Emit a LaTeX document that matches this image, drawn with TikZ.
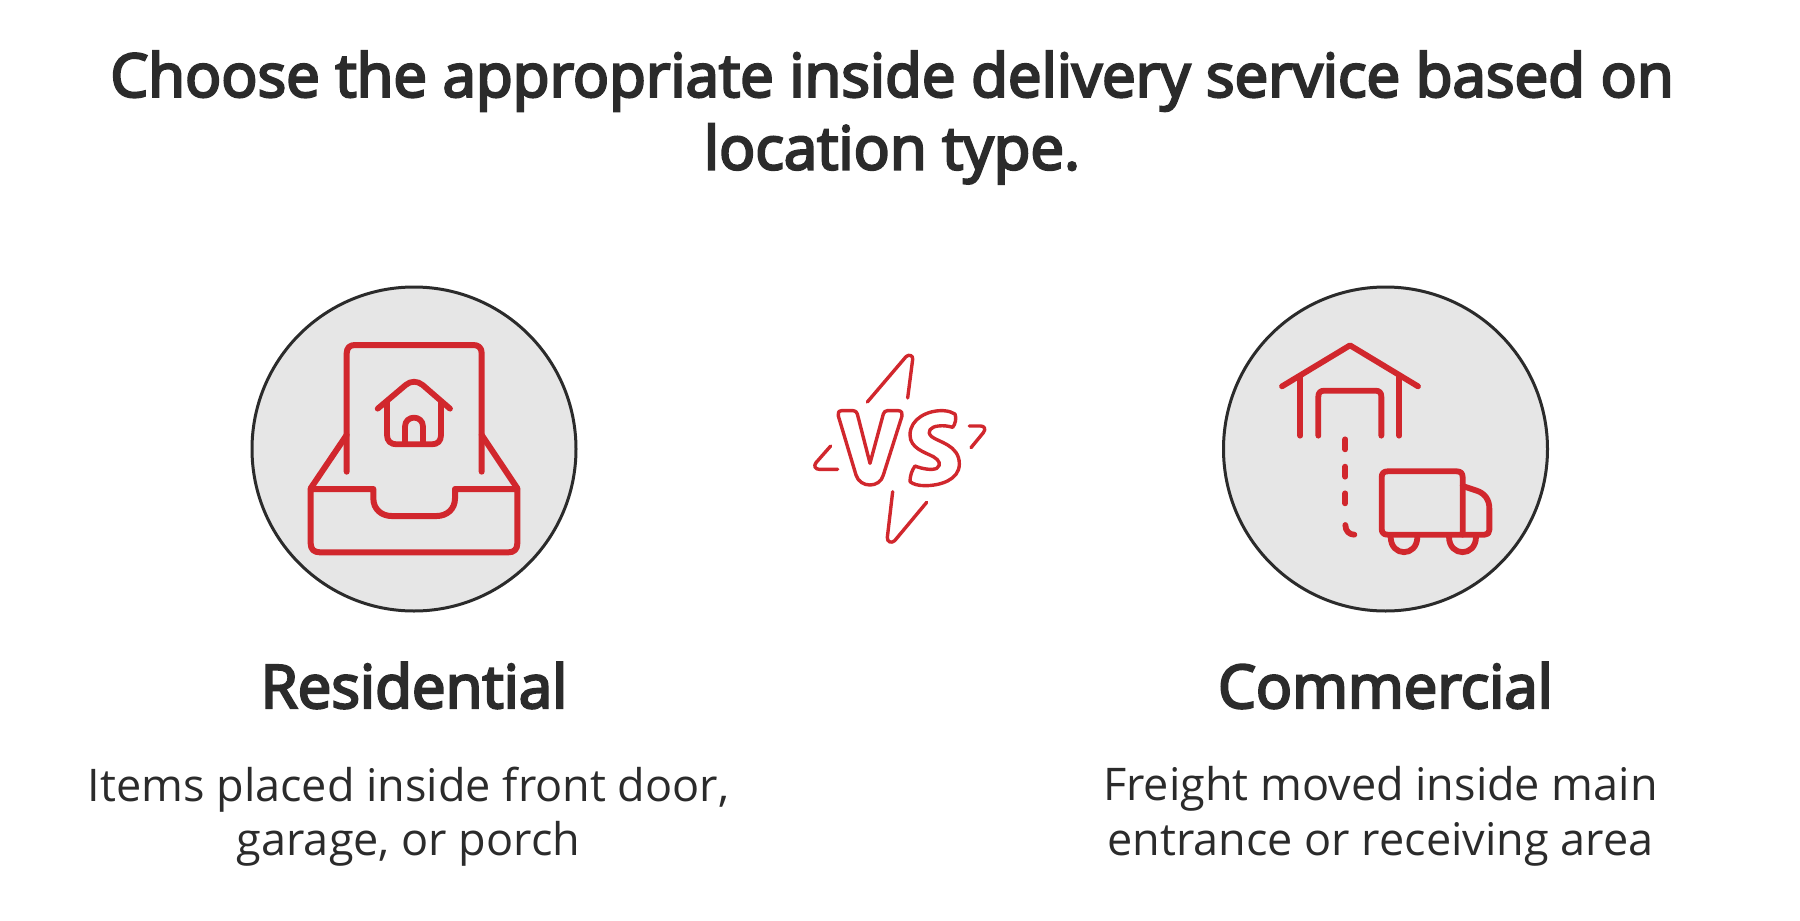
\documentclass[tikz,border=0pt]{standalone}
\usepackage{fontspec}
\setmainfont{Open Sans}
\newfontfamily\semi[FakeBold=4]{Open Sans}
\definecolor{ink}{HTML}{2B2B2B}
\definecolor{redline}{HTML}{D1272D}
\definecolor{discgray}{HTML}{E6E6E6}
\tikzset{
  disc/.style={circle,draw=ink,fill=discgray,line width=1.5pt,minimum size=162pt,inner sep=0pt},
  icon/.style={draw=redline,line width=3pt,line cap=round,line join=round},
  iconthin/.style={draw=redline,line width=2.9pt,line cap=round,line join=round},
  spark/.style={draw=redline,line width=1.7pt,line cap=round,line join=round},
  titletxt/.style={text=ink,font=\semi\fontsize{30}{36.3}\selectfont,align=center,anchor=center,inner sep=0pt},
  headtxt/.style={text=ink,font=\semi\fontsize{30}{36}\selectfont,anchor=base,inner sep=0pt},
  bodytxt/.style={text=ink,font=\fontsize{22.5}{27.3}\selectfont,align=center,anchor=center,inner sep=0pt},
}
\begin{document}
\begin{tikzpicture}[x=0.5pt,y=-0.5pt]
\useasboundingbox (0,0) rectangle (1800,921);
\node[titletxt] (title) at (892,117.5) {Choose the appropriate inside delivery service based on\\location type.};
\node[disc] (left) at (414,449) {};
\node[disc] (right) at (1385.5,449) {};
\node[headtxt] (reshead) at (414,708) {Residential};
\node[headtxt] (comhead) at (1385.5,708) {Commercial};
\node[bodytxt] (resbody) at (408.5,816.5) {Items placed inside front door,\\garage, or porch};
\node[bodytxt] (combody) at (1380.5,816.5) {Freight moved inside main\\entrance or receiving area};
% inbox icon
\begin{scope}[x=0.16667pt,y=-0.16667pt,shift={(120pt,-135pt)}]
\draw[icon] (320,605) -- (320,250) .. controls (320,233) and (330,225) .. (345,225) -- (700,225) .. controls (715,225) and (725,233) .. (725,250) -- (725,605);
\draw[icon] (212,655) -- (320,495);
\draw[icon] (832,655) -- (725,495);
\draw[icon] (212,657) -- (400,657) -- (400,685) .. controls (400,718) and (425,738) .. (455,738) -- (590,738) .. controls (620,738) and (645,718) .. (645,685) -- (645,657) -- (832,657) -- (832,820) .. controls (832,838) and (822,847) .. (805,847) -- (240,847) .. controls (222,847) and (212,838) .. (212,820) -- cycle;
\draw[iconthin] (413,416) -- (497,345) .. controls (512,332) and (532,332) .. (548,345) -- (630,416);
\draw[iconthin] (441,395) -- (441,495) .. controls (441,513) and (452,523) .. (470,523) -- (575,523) .. controls (593,523) and (603,513) .. (603,495) -- (603,395);
\draw[iconthin] (495,520) -- (495,470) .. controls (495,434) and (549,434) .. (549,470) -- (549,520);
\end{scope}
% truck icon
\begin{scope}[x=0.16667pt,y=-0.16667pt,shift={(610pt,-135pt)}]
\draw[iconthin] (186,349) -- (390,226) -- (594,349);
\draw[iconthin] (241,320) -- (241,497);
\draw[iconthin] (538,320) -- (538,497);
\draw[iconthin] (295,497) -- (295,380) .. controls (295,368) and (301,362) .. (313,362) -- (466,362) .. controls (478,362) and (484,368) .. (484,380) -- (484,497);
\draw[iconthin] (376,508) -- (376,538);
\draw[iconthin] (376,590) -- (376,620);
\draw[iconthin] (376,670) -- (376,700);
\draw[iconthin] (376,765) .. controls (376,783) and (388,794) .. (403,794);
\draw[iconthin] (503,604) -- (710,604) .. controls (722,604) and (728,610) .. (728,622) -- (728,794) -- (503,794) .. controls (491,794) and (485,788) .. (485,776) -- (485,622) .. controls (485,610) and (491,604) .. (503,604) -- cycle;
\draw[iconthin] (728,648) -- (770,662) .. controls (795,670) and (808,690) .. (808,715) -- (808,780) .. controls (808,789) and (803,794) .. (794,794) -- (728,794);
\draw[iconthin] (512,800) .. controls (512,862) and (592,862) .. (592,800);
\draw[iconthin] (687,800) .. controls (687,862) and (768,862) .. (768,800);
\end{scope}
% VS mark
\begin{scope}[x=0.16667pt,y=-0.16667pt,shift={(400pt,-170pt)}]
\draw[spark] (202,186) -- (318,50) .. controls (326,42) and (340,46) .. (338,58) -- (323,174);
\draw[spark] (278,455) -- (262,592) .. controls (261,606) and (274,611) .. (284,602) -- (380,487);
\draw[spark] (92,318) -- (48,368) .. controls (40,378) and (46,388) .. (58,388) -- (113,388);
\draw[spark] (508,258) -- (542,258) .. controls (554,258) and (558,268) .. (550,278) -- (513,323);
\draw[spark] (125,212) -- (160,212) .. controls (166,212) and (170,216) .. (172,222) -- (210,370) -- (250,222) .. controls (252,216) and (256,212) .. (262,212) -- (295,212) .. controls (304,212) and (309,220) .. (306,228) -- (250,405) .. controls (240,445) and (180,445) .. (168,405) -- (115,228) .. controls (112,220) and (116,212) .. (125,212) -- cycle;
\draw[spark] (430,212) .. controls (445,213) and (455,216) .. (465,222) .. controls (470,235) and (466,252) .. (458,262) .. controls (445,258) and (430,256) .. (415,258) .. controls (392,260) and (378,275) .. (395,290) .. controls (415,306) and (478,315) .. (478,372) .. controls (478,420) and (420,437) .. (375,437) .. controls (355,437) and (340,433) .. (330,425) .. controls (330,408) and (335,392) .. (345,378) .. controls (365,386) and (395,392) .. (410,385) .. controls (425,375) and (418,360) .. (400,350) .. controls (375,337) and (330,325) .. (330,285) .. controls (330,235) and (385,210) .. (430,212) -- cycle;
\end{scope}
\end{tikzpicture}
\end{document}
